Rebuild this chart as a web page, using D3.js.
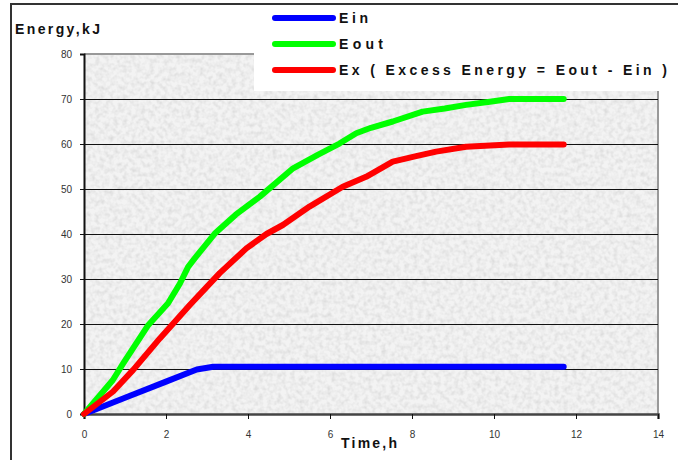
<!DOCTYPE html>
<html><head><meta charset="utf-8">
<script src="https://cdn.jsdelivr.net/npm/d3@7"></script>
<style>html,body{margin:0;padding:0;background:#fff;}svg{display:block;font-family:Arial,"Liberation Sans",sans-serif;}</style>
</head><body>
<svg id="c" width="678" height="460"></svg>
<script>
const xTicks = [0, 2, 4, 6, 8, 10, 12, 14];
const yTicks = [0, 10, 20, 30, 40, 50, 60, 70, 80];
const seriesNames = ["Ein", "Eout", "Ex ( Excess Energy = Eout - Ein )"];
const seriesColors = ["#0000ff", "#00ff00", "#ff0000"];
const einT = [0, 1, 2, 2.75, 3.15, 11.7];
const einV = [0, 3.6, 7.2, 9.9, 10.5, 10.5];
const eoutT = [0, 0.7, 0.96, 1.57, 2.05, 2.34, 2.54, 2.7, 3.19, 3.7, 4.29, 5.1, 5.7, 6.23, 6.64, 7.0, 7.53, 8.26, 8.8, 9.32, 9.9, 10.37, 11.7];
const eoutV = [0, 7.5, 11.3, 19.8, 24.6, 29, 32.7, 34.6, 40.1, 44.3, 48.3, 54.6, 57.6, 60.1, 62.4, 63.6, 65, 67.2, 67.9, 68.7, 69.4, 70, 70];
const exT = [0, 0.71, 1.2, 1.85, 2.58, 3.31, 3.96, 4.45, 4.85, 5.5, 6.31, 6.88, 7.53, 8.1, 8.59, 9.32, 10.37, 11.7];
const exV = [0, 5, 9.8, 16.8, 24.2, 31.3, 36.8, 40, 42, 46.1, 50.5, 52.7, 56.1, 57.3, 58.3, 59.4, 59.9, 59.9];

const svg = d3.select("#c");
const x = d3.scaleLinear().domain([0, 14]).range([84, 658]);
const y = d3.scaleLinear().domain([0, 80]).range([414, 54]);

// texture filter
const defs = svg.append("defs");
const f = defs.append("filter").attr("id", "tex").attr("x", 0).attr("y", 0).attr("width", 1).attr("height", 1);
f.append("feTurbulence").attr("type", "fractalNoise").attr("baseFrequency", 0.22).attr("numOctaves", 2).attr("seed", 3).attr("result", "n");
f.append("feColorMatrix").attr("in", "n").attr("type", "matrix")
  .attr("values", "0 0 0 0 0  0 0 0 0 0  0 0 0 0 0  0 0 0 -1.0 0.62").attr("result", "a");
f.append("feFlood").attr("flood-color", "#f3f3f3").attr("result", "bg");
f.append("feFlood").attr("flood-color", "#c4c4c4").attr("result", "dk");
f.append("feComposite").attr("in", "dk").attr("in2", "a").attr("operator", "in").attr("result", "dka");
f.append("feMerge").selectAll("feMergeNode").data(["bg", "dka"]).join("feMergeNode").attr("in", d => d);

// outer frame
svg.append("rect").attr("x", 11).attr("y", 4).attr("width", 700).attr("height", 480)
  .attr("fill", "#fff").attr("stroke", "#333").attr("stroke-width", 2);

// plot background
svg.append("rect").attr("x", x(0)).attr("y", y(80)).attr("width", x(14) - x(0)).attr("height", y(0) - y(80))
  .attr("fill", "#e8e8e8").attr("filter", "url(#tex)");
// plot border (top/right grey)
svg.append("path").attr("d", `M${x(0)},${y(80)}H${x(14)}V${y(0)}`).attr("fill", "none").attr("stroke", "#999").attr("stroke-width", 2);

// gridlines
svg.append("g").selectAll("line").data(yTicks.filter(v => v > 0 && v < 80)).join("line")
  .attr("x1", x(0)).attr("x2", x(14)).attr("y1", d => y(d)).attr("y2", d => y(d))
  .attr("stroke", "#111").attr("stroke-width", 1).attr("shape-rendering", "crispEdges");

// axes
const yAxis = svg.append("g").attr("transform", `translate(${x(0)},0)`)
  .call(d3.axisLeft(y).tickValues(yTicks).tickSize(4).tickPadding(8).tickFormat(d3.format("d")));
yAxis.select(".domain").attr("stroke", "#111").attr("stroke-width", 2);
yAxis.selectAll(".tick line").attr("stroke", "#111");
yAxis.selectAll("text").attr("font-size", 10).attr("fill", "#333").attr("font-family", "Arial, Liberation Sans, sans-serif");

const xAxis = svg.append("g").attr("transform", `translate(0,${y(0)})`)
  .call(d3.axisBottom(x).tickValues(xTicks).tickSize(5).tickPadding(12).tickFormat(d3.format("d")));
xAxis.select(".domain").attr("stroke", "#444").attr("stroke-width", 2.5);
xAxis.selectAll(".tick line").attr("stroke", "#111");
xAxis.selectAll("text").attr("font-size", 10).attr("fill", "#333").attr("font-family", "Arial, Liberation Sans, sans-serif");

// lines
const series = [
  {t: einT, v: einV},
  {t: eoutT, v: eoutV},
  {t: exT, v: exV}
];
const line = d3.line().x(d => x(d[0])).y(d => y(d[1])).curve(d3.curveLinear);
series.forEach((s, i) => {
  svg.append("path").datum(s.t.map((t, j) => [t, s.v[j]]))
    .attr("d", line).attr("fill", "none").attr("stroke", seriesColors[i]).attr("stroke-width", 6)
    .attr("stroke-linejoin", "round").attr("stroke-linecap", "round");
});

// legend
svg.append("rect").attr("x", 254).attr("y", 5).attr("width", 430).attr("height", 86).attr("fill", "#fff");
const legY = [18, 44, 70];
const legLen = [29, 44, 328];
seriesNames.forEach((n, i) => {
  svg.append("line").attr("x1", 275).attr("x2", 333).attr("y1", legY[i]).attr("y2", legY[i])
    .attr("stroke", seriesColors[i]).attr("stroke-width", 6).attr("stroke-linecap", "round");
  svg.append("text").attr("x", 339).attr("y", legY[i] + 5).text(n)
    .attr("font-size", 14).attr("font-weight", "bold").attr("fill", "#111")
    .attr("textLength", legLen[i]).attr("lengthAdjust", "spacing");
});

// axis titles
svg.append("text").attr("x", 15).attr("y", 34).text("Energy,kJ")
  .attr("font-size", 14).attr("font-weight", "bold").attr("fill", "#111")
  .attr("textLength", 85).attr("lengthAdjust", "spacing");
svg.append("text").attr("x", 341).attr("y", 448).text("Time,h")
  .attr("font-size", 14).attr("font-weight", "bold").attr("fill", "#111")
  .attr("textLength", 56).attr("lengthAdjust", "spacing");
</script>
</body></html>
